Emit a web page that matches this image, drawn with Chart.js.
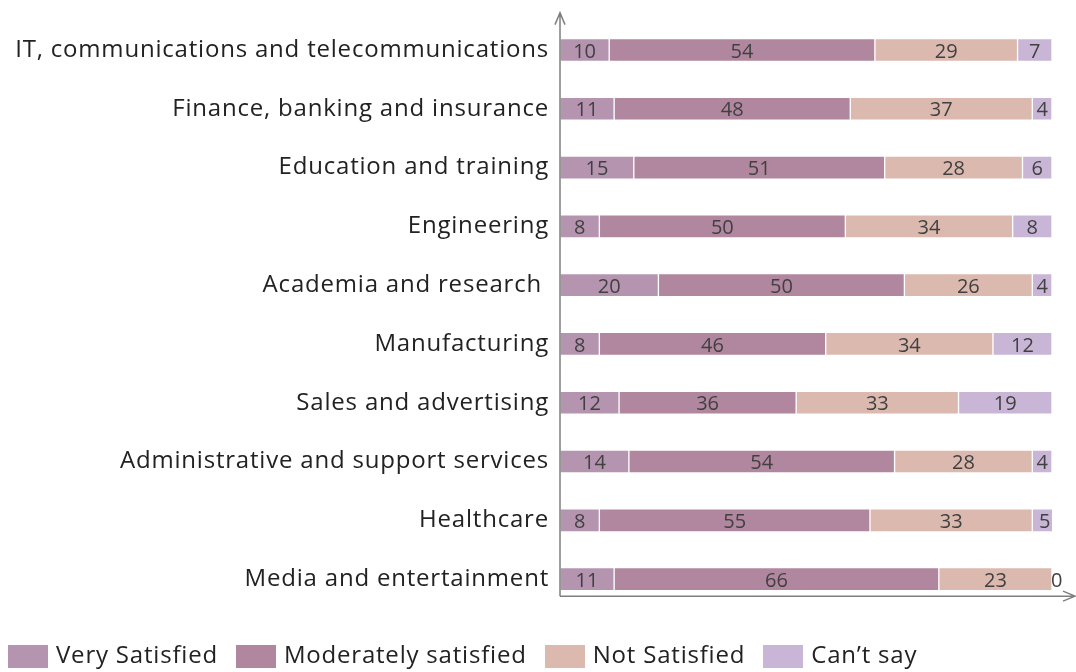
<!DOCTYPE html>
<html>
<head>
<meta charset="utf-8">
<script src="https://cdn.jsdelivr.net/npm/chart.js@4/dist/chart.umd.min.js"></script>
<style>
  html, body { margin: 0; padding: 0; background: #ffffff; overflow: hidden; }
  #wrap { width: 1076px; height: 672px; }
</style>
</head>
<body>
<div id="wrap"><canvas id="c" width="1076" height="672"></canvas></div>
<script>
const categories = [
  "IT, communications and telecommunications",
  "Finance, banking and insurance",
  "Education and training",
  "Engineering",
  "Academia and research ",
  "Manufacturing",
  "Sales and advertising",
  "Administrative and support services",
  "Healthcare",
  "Media and entertainment"
];
const verySatisfied       = [10, 11, 15, 8, 20, 8, 12, 14, 8, 11];
const moderatelySatisfied = [54, 48, 51, 50, 50, 46, 36, 54, 55, 66];
const notSatisfied        = [29, 37, 28, 34, 26, 34, 33, 28, 33, 23];
const cantSay             = [7, 4, 6, 8, 4, 12, 19, 4, 5, 0];
const seriesNames = ["Very Satisfied", "Moderately satisfied", "Not Satisfied", "Can\u2019t say"];
const seriesColors = ["#b594b0", "#b0879f", "#dbb9ae", "#c9b6d6"];

const FONT = "'Open Sans', 'DejaVu Sans', sans-serif";

// legend swatch images (40 x 23 filled boxes)
function swatch(color) {
  const c = document.createElement('canvas');
  c.width = 40; c.height = 23;
  const g = c.getContext('2d');
  g.fillStyle = color;
  g.fillRect(0, 0, 40, 23);
  return c;
}
const swatches = seriesColors.map(swatch);

const spacingPlugin = {
  id: 'textSpacing',
  beforeLayout(chart) {
    if ('letterSpacing' in chart.ctx) chart.ctx.letterSpacing = '0.8px';
  },
  beforeDraw(chart) {
    if ('letterSpacing' in chart.ctx) chart.ctx.letterSpacing = '0.8px';
  }
};

const axesPlugin = {
  id: 'axesArrows',
  afterDraw(chart) {
    const ctx = chart.ctx;
    const a = chart.chartArea;
    const ys = chart.scales.y;
    const lastCenter = ys.getPixelForValue(categories.length - 1);
    const band = ys.getPixelForValue(1) - ys.getPixelForValue(0);
    const x0 = a.left;
    const yBottom = lastCenter + band * 0.29;
    const yTop = a.top - 8;
    const xRight = chart.width - 1;
    ctx.save();
    ctx.strokeStyle = '#7f7f7f';
    ctx.lineWidth = 1.5;
    ctx.beginPath();
    ctx.moveTo(x0, yBottom);
    ctx.lineTo(x0, yTop);
    ctx.moveTo(x0 - 5, yTop + 12);
    ctx.lineTo(x0, yTop);
    ctx.lineTo(x0 + 5, yTop + 12);
    ctx.moveTo(x0, yBottom);
    ctx.lineTo(xRight, yBottom);
    ctx.moveTo(xRight - 12, yBottom - 5);
    ctx.lineTo(xRight, yBottom);
    ctx.lineTo(xRight - 12, yBottom + 5);
    ctx.stroke();
    ctx.restore();
  }
};

const labelPlugin = {
  id: 'valueLabels',
  afterDatasetsDraw(chart) {
    const ctx = chart.ctx;
    ctx.save();
    if ('letterSpacing' in ctx) ctx.letterSpacing = '0px';
    ctx.font = "20px " + FONT;
    ctx.fillStyle = '#404040';
    ctx.textBaseline = 'middle';
    chart.data.datasets.forEach((ds, di) => {
      const meta = chart.getDatasetMeta(di);
      meta.data.forEach((el, i) => {
        const v = ds.data[i];
        const p = el.getProps(['x', 'y', 'base'], true);
        if (v === 0) {
          ctx.textAlign = 'left';
          ctx.fillText(String(v), p.x - 1, p.y + 2);
        } else {
          ctx.textAlign = 'center';
          ctx.fillText(String(v), (p.x + p.base) / 2, p.y + 2);
        }
      });
    });
    ctx.restore();
  }
};

const seriesData = [verySatisfied, moderatelySatisfied, notSatisfied, cantSay];

new Chart(document.getElementById('c'), {
  type: 'bar',
  data: {
    labels: categories,
    datasets: seriesData.map((d, i) => ({
      label: seriesNames[i],
      data: d,
      backgroundColor: seriesColors[i],
      borderColor: 'rgba(255,255,255,0.45)',
      borderWidth: 1,
      borderSkipped: false,
      barThickness: 23
    }))
  },
  options: {
    indexAxis: 'y',
    responsive: false,
    animation: false,
    layout: { padding: { top: 20.6, right: 24, left: -10, bottom: -6 } },
    scales: {
      x: {
        stacked: true,
        min: 0,
        max: 100,
        display: true,
        border: { display: false },
        grid: { display: false, drawTicks: false },
        ticks: { display: false },
        afterFit(scale) { scale.height = 13.5; }
      },
      y: {
        stacked: true,
        border: { display: false },
        grid: { display: false, drawTicks: false },
        ticks: {
          color: '#222222',
          font: { family: FONT, size: 24 },
          padding: 11,
          autoSkip: false
        },
        afterFit(scale) {
          scale.width = 570;
          scale.paddingTop = 0;
          scale.paddingBottom = 0;
        }
      }
    },
    plugins: {
      legend: {
        position: 'bottom',
        align: 'start',
        labels: {
          usePointStyle: true,
          pointStyleWidth: 32,
          boxHeight: 23,
          color: '#222222',
          font: { family: FONT, size: 24 },
          padding: 22,
          generateLabels(chart) {
            const items = Chart.defaults.plugins.legend.labels.generateLabels(chart);
            items.forEach((it, i) => { it.pointStyle = swatches[i]; });
            return items;
          }
        }
      },
      tooltip: { enabled: false }
    }
  },
  plugins: [spacingPlugin, axesPlugin, labelPlugin]
});
</script>
</body>
</html>
